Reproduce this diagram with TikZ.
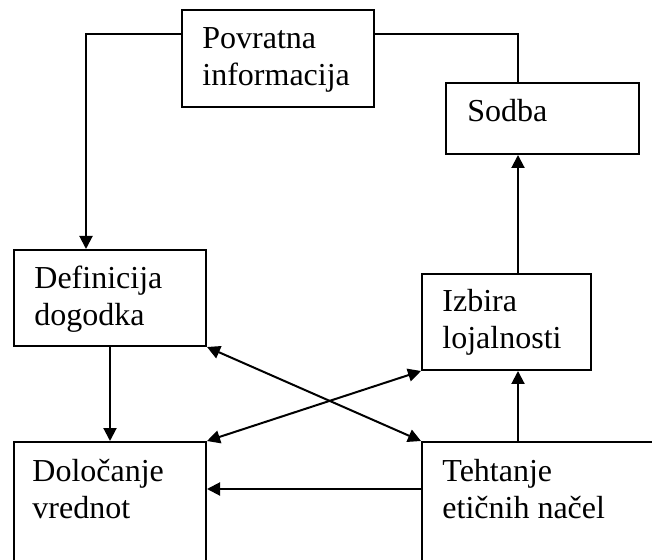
\documentclass[tikz,border=0pt]{standalone}
\usepackage{fontspec}
\setmainfont{Liberation Serif}
\usetikzlibrary{arrows.meta}
\tikzset{
  blok/.style={draw, line width=1pt, inner sep=0pt},
  napis/.style={anchor=base west, inner sep=0pt, align=left, font=\fontsize{16}{18.5}\selectfont},
  crta/.style={line width=1pt},
  puscica/.style={line width=1pt, -{Triangle[length=6.5pt,width=6.5pt]}},
  dvojna/.style={line width=1pt, {Triangle[length=6.5pt,width=6.5pt]}-{Triangle[length=6.5pt,width=6.5pt]}}
}
\begin{document}
\begin{tikzpicture}[x=0.5pt,y=-0.5pt]
			\useasboundingbox (0,0) rectangle (652,560);
			\clip (0,0) rectangle (652,560);
			
			\node [blok, minimum width=96pt, minimum height=48.5pt] (povr) at (278,58.5) {};
			\node [blok, minimum width=96.5pt, minimum height=35.5pt] (sodba) at (542.5,118.5) {};
			\node [blok, minimum width=96pt, minimum height=48pt] (defin) at (110,298) {};
			\node [blok, minimum width=84.5pt, minimum height=48pt] (izbira) at (506.5,322) {};
			\node [blok, minimum width=96pt, minimum height=79pt] (dolo) at (110,521) {};
			\node [blok, minimum width=139pt, minimum height=79pt] (teht) at (561,521) {};
			
			% base of a two-line text is its last line
			\node [napis] (povrT) at ([shift={(21,77)}]povr.north west) {Povratna\\informacija};
			\node [napis] (sodbaT) at ([shift={(22,40)}]sodba.north west) {Sodba};
			\node [napis] (definT) at ([shift={(21,77)}]defin.north west) {Definicija\\dogodka};
			\node [napis] (izbiraT) at ([shift={(21,76)}]izbira.north west) {Izbira\\lojalnosti};
			\node [napis] (doloT) at ([shift={(19,77)}]dolo.north west) {Določanje\\vrednot};
			\node [napis] (tehtT) at ([shift={(21,77)}]teht.north west) {Tehtanje\\etičnih načel};
			
			\coordinate (levo) at (86,34);
			\coordinate (desno) at (518,34);
			
			\draw [puscica] (povr.west |- levo) -- (levo) -- (levo |- defin.north);
			\draw [crta] (povr.east |- desno) -- (desno) -- (desno |- sodba.north);
			\draw [puscica] (desno |- izbira.north) -- (desno |- sodba.south);
			\draw [puscica] (desno |- teht.north) -- (desno |- izbira.south);
			\draw [puscica] (defin.south) -- (dolo.north);
			\draw [puscica] ([yshift=-24pt]teht.north west) -- ([yshift=-24pt]dolo.north east);
			\draw [dvojna] (izbira.south west) -- (dolo.north east);
			\draw [dvojna] (defin.south east) -- (teht.north west);
		\end{tikzpicture}
\end{document}
